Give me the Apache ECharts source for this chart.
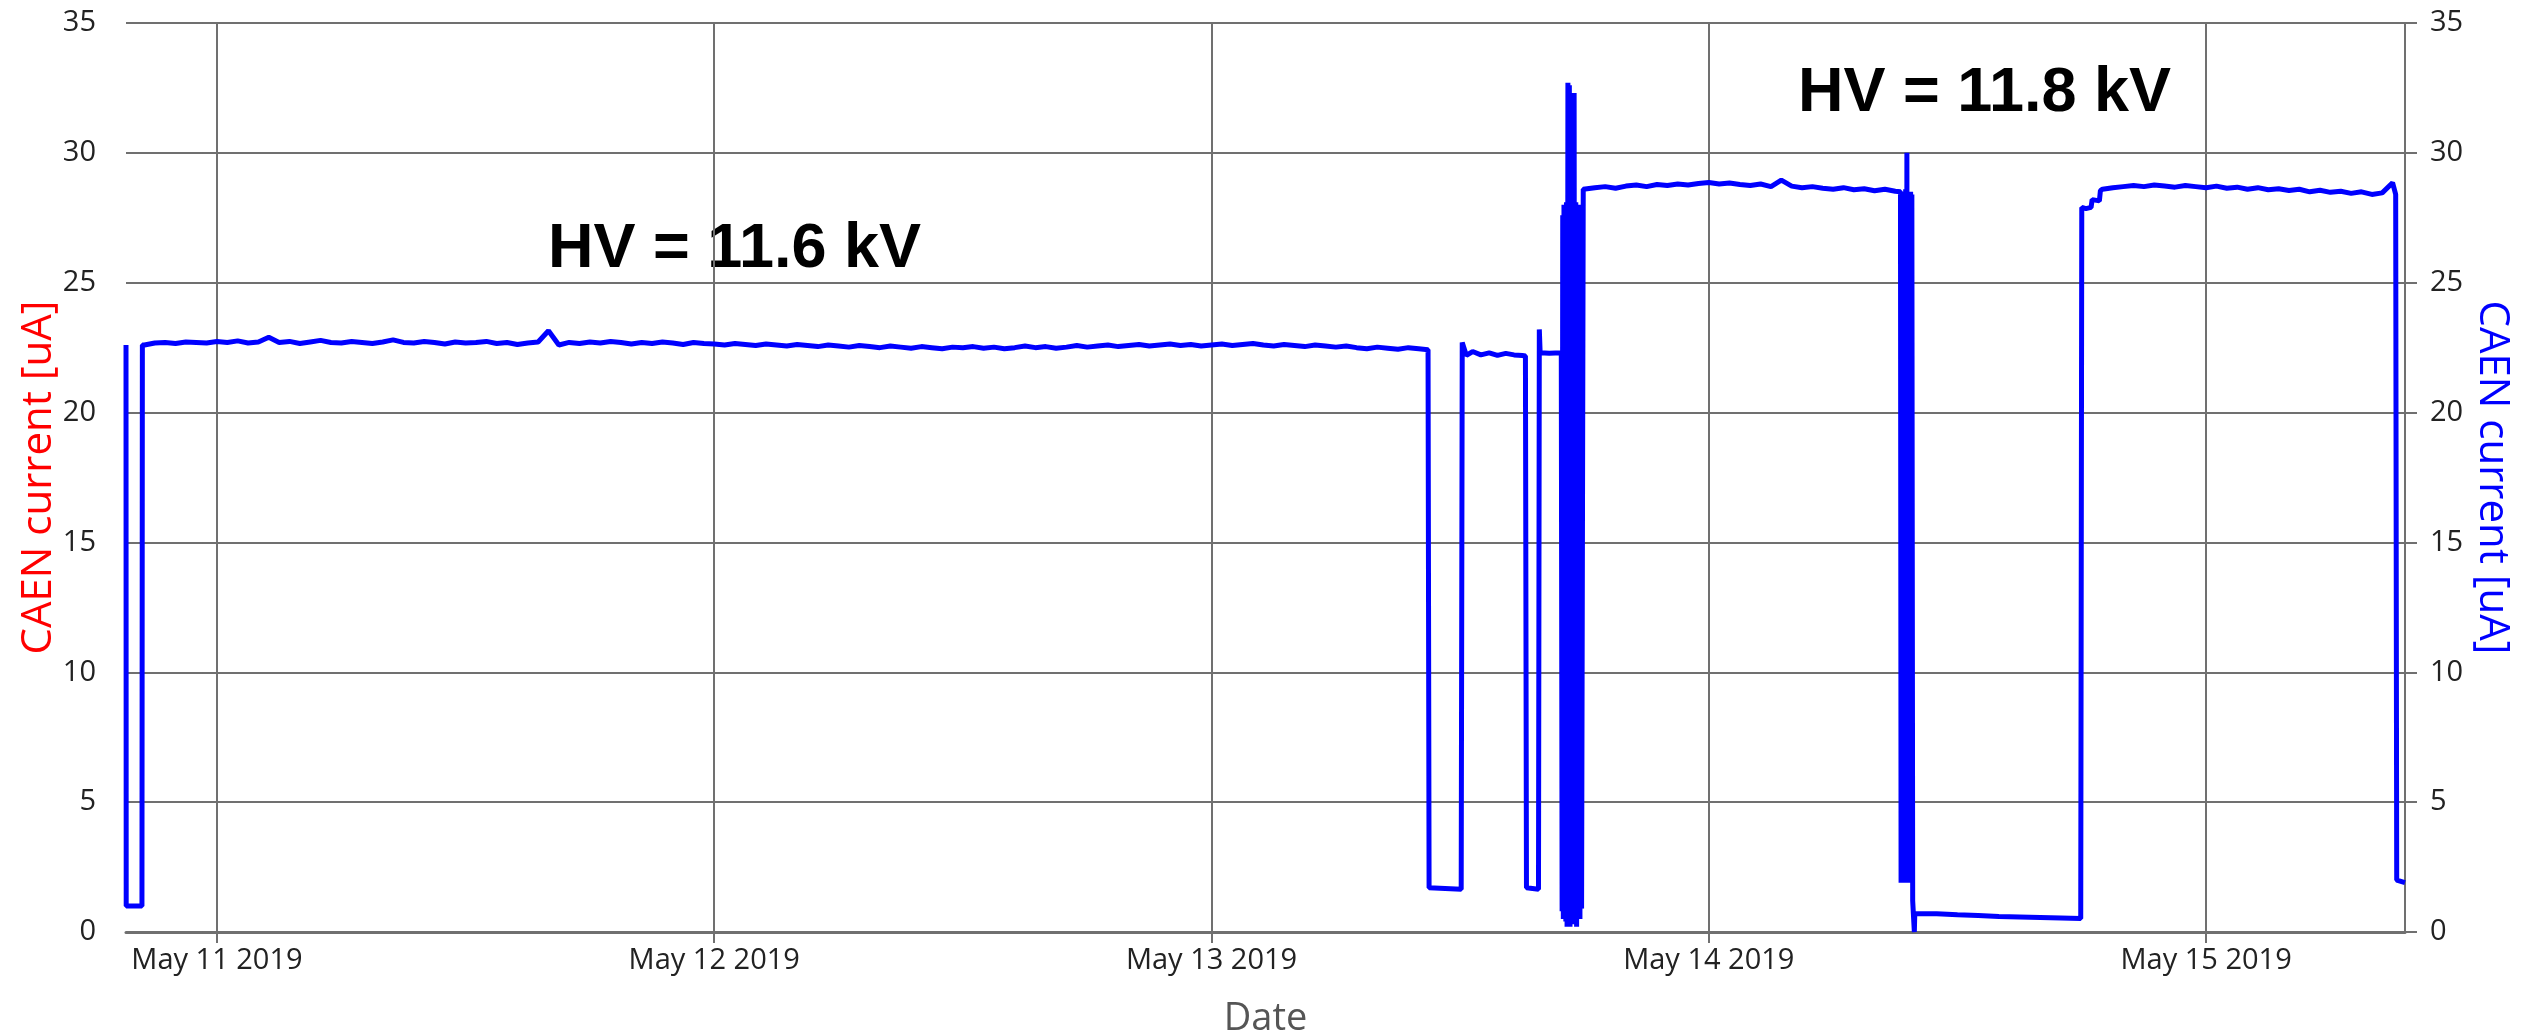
<!DOCTYPE html>
<html>
<head>
<meta charset="utf-8">
<title>CAEN current</title>
<script src="https://cdn.jsdelivr.net/npm/echarts@6/dist/echarts.min.js"></script>
<style>
  html, body { margin: 0; padding: 0; background: #ffffff; }
  #chart { width: 2547px; height: 1035px; }
</style>
</head>
<body>
<div id="chart"></div>
<script>
// hours are counted from May 11 2019 00:00
const axisStartHour = -4.39
const axisEndHour = 105.6
const dayTickHours = [0, 24, 48, 72, 96]
const monthNames = ['Jan', 'Feb', 'Mar', 'Apr', 'May', 'Jun', 'Jul', 'Aug', 'Sep', 'Oct', 'Nov', 'Dec']

// switch-on at the start
const startHours = [-4.39, -4.38, -3.62, -3.6]
const startValues = [22.6, 1.0, 1.0, 22.6]

// HV = 11.6 kV run, sampled every half hour
const run116Start = -3.5
const run116Step = 0.5
const run116Values = [
  22.6, 22.68, 22.7, 22.66, 22.72, 22.7, 22.68, 22.74,
  22.7, 22.76, 22.68, 22.72, 22.9, 22.7, 22.74, 22.66, 22.72, 22.78, 22.7, 22.68,
  22.74, 22.7, 22.66, 22.72, 22.8, 22.7, 22.68, 22.74, 22.7, 22.64, 22.72, 22.68,
  22.7, 22.74, 22.66, 22.7, 22.62, 22.68, 22.72, 23.15, 22.6, 22.7, 22.66, 22.72,
  22.68, 22.74, 22.7, 22.64, 22.7, 22.66, 22.72, 22.68, 22.62, 22.7, 22.66, 22.64,
  22.6, 22.66, 22.62, 22.58, 22.64, 22.6, 22.56, 22.62, 22.58, 22.54, 22.6, 22.56,
  22.52, 22.58, 22.54, 22.5, 22.56, 22.52, 22.48, 22.54, 22.5, 22.46, 22.52, 22.5,
  22.54, 22.48, 22.52, 22.46, 22.5, 22.56, 22.5, 22.54, 22.48, 22.52, 22.58, 22.52,
  22.56, 22.6, 22.54, 22.58, 22.62, 22.56, 22.6, 22.64, 22.58, 22.62, 22.56, 22.6,
  22.64, 22.58, 22.62, 22.66, 22.6, 22.56, 22.62, 22.58, 22.54, 22.6, 22.56, 22.52,
  22.56, 22.5, 22.46, 22.52, 22.48, 22.44, 22.5, 22.46
]

// trips on May 13
const tripHours = [
  58.45, 58.5, 60.05, 60.1, 60.3, 60.6, 61.0, 61.4, 61.8, 62.2, 62.6, 63.0, 63.15, 63.2,
  63.78, 63.82, 63.86, 64.3, 64.88
]
const tripValues = [
  22.42, 1.7, 1.65, 22.7, 22.2, 22.35, 22.22, 22.3, 22.2, 22.28, 22.22, 22.2, 22.18, 1.7,
  1.65, 23.2, 22.3, 22.28, 22.3
]

// unstable period while raising the HV
const burstHours = [
  64.92, 64.95, 64.98, 65.01, 65.04, 65.07, 65.1, 65.13, 65.16, 65.2, 65.23, 65.27, 65.3,
  65.34, 65.38, 65.42, 65.46, 65.5, 65.54, 65.58, 65.62, 65.66, 65.7, 65.74, 65.78, 65.82,
  65.86, 65.92, 65.94
]
const burstValues = [
  0.8, 27.6, 0.5, 28.0, 0.8, 27.8, 0.4, 28.1, 0.2, 32.7, 0.3, 32.6, 0.2,
  28.2, 0.5, 28.0, 0.3, 32.3, 0.6, 28.1, 0.2, 28.0, 0.9, 27.9, 0.5, 28.0,
  0.9, 0.9, 28.6
]

// HV = 11.8 kV, first part
const run118aStart = 66.0
const run118aStep = 0.5
const run118aValues = [
  28.6, 28.66, 28.7, 28.64, 28.72, 28.76, 28.7, 28.78, 28.74, 28.8, 28.76, 28.82,
  28.86, 28.8, 28.84, 28.78, 28.74, 28.8, 28.7, 28.95, 28.72, 28.66, 28.7, 28.64,
  28.6, 28.66, 28.58, 28.62, 28.54, 28.6, 28.52
]

// trip on May 14 and the low period
const trip2Hours = [
  81.25, 81.28, 81.31, 81.34, 81.37, 81.4, 81.43, 81.46, 81.5, 81.53, 81.56, 81.59, 81.62,
  81.65, 81.68, 81.71, 81.74, 81.77, 81.8, 81.84, 81.9, 81.92, 81.94,
  82.0, 83.0, 84.0, 85.0, 86.0, 87.0, 88.0, 89.0, 89.95,
  90.0, 90.2, 90.45, 90.5, 90.85, 90.9
]
const trip2Values = [
  28.5, 1.9, 28.4, 1.9, 28.5, 2.0, 28.4, 1.9, 28.6, 2.0, 30.0, 1.9, 28.5,
  1.9, 28.4, 2.0, 28.5, 1.9, 28.4, 1.2, 1.2, 0.0, 0.7,
  0.72, 0.7, 0.66, 0.64, 0.6, 0.58, 0.56, 0.54, 0.52,
  27.9, 27.85, 27.9, 28.2, 28.15, 28.55
]

// HV = 11.8 kV, second part
const run118bStart = 91.0
const run118bStep = 0.5
const run118bValues = [
  28.6, 28.66, 28.7, 28.74, 28.7, 28.76, 28.72, 28.68, 28.74, 28.7, 28.66, 28.72,
  28.64, 28.68, 28.6, 28.66, 28.58, 28.62, 28.55, 28.6, 28.5, 28.56, 28.48, 28.52,
  28.44, 28.5, 28.4, 28.46, 28.85
]

// switch-off at the end
const endHours = [105.15, 105.2, 105.6]
const endValues = [28.4, 2.0, 1.9]

const points = []
const addPairs = (hours, values) => {
  hours.forEach((h, i) => points.push([h, values[i]]))
}
const addRun = (start, step, values) => {
  values.forEach((v, i) => points.push([start + i * step, v]))
}
addPairs(startHours, startValues)
addRun(run116Start, run116Step, run116Values)
addPairs(tripHours, tripValues)
addPairs(burstHours, burstValues)
addRun(run118aStart, run118aStep, run118aValues)
addPairs(trip2Hours, trip2Values)
addRun(run118bStart, run118bStep, run118bValues)
addPairs(endHours, endValues)

const T0 = new Date(2019, 4, 11).getTime()
const dateLabel = h => {
  const d = new Date(T0 + h * 3600 * 1000)
  return monthNames[d.getMonth()] + ' ' + d.getDate() + ' ' + d.getFullYear()
}

const gridColor = '#707070'
const labelFont = 'Open Sans'

const chart = echarts.init(document.getElementById('chart'))

const yAxisBase = {
  type: 'value',
  min: 0,
  max: 35,
  interval: 5,
  nameLocation: 'middle',
  nameMoveOverlap: false,
  axisLine: { show: true, lineStyle: { color: gridColor, width: 2 } },
  axisTick: { show: true, inside: false, lineStyle: { color: gridColor, width: 2 } },
  axisLabel: { fontFamily: labelFont, fontSize: 29, color: '#222' }
}

chart.setOption({
  animation: false,
  backgroundColor: '#ffffff',
  grid: { left: 126, right: 142, top: 23, bottom: 103, containLabel: false, outerBoundsMode: 'none' },
  xAxis: {
    type: 'value',
    min: axisStartHour,
    max: axisEndHour,
    name: 'Date',
    nameLocation: 'middle',
    nameGap: 68,
    nameMoveOverlap: false,
    nameTextStyle: { fontFamily: labelFont, fontSize: 38, color: '#555' },
    axisLine: { show: true, onZero: false, lineStyle: { color: gridColor, width: 3 } },
    axisTick: { show: true, length: 11, customValues: dayTickHours, lineStyle: { color: gridColor, width: 2 } },
    axisLabel: {
      customValues: dayTickHours,
      fontFamily: labelFont,
      fontSize: 29,
      color: '#222',
      margin: 14,
      formatter: dateLabel
    },
    splitLine: { show: true, lineStyle: { color: gridColor, width: 2 } }
  },
  yAxis: [
    Object.assign({}, yAxisBase, {
      position: 'left',
      name: 'CAEN current [uA]',
      nameGap: 66,
      nameRotate: 90,
      nameTextStyle: { fontFamily: labelFont, fontSize: 42, color: '#ff0000' },
      axisTick: Object.assign({}, yAxisBase.axisTick, { length: 14 }),
      axisLabel: Object.assign({}, yAxisBase.axisLabel, { margin: 30 }),
      splitLine: { show: true, lineStyle: { color: gridColor, width: 2 } }
    }),
    Object.assign({}, yAxisBase, {
      position: 'right',
      name: 'CAEN current [uA]',
      nameGap: 66,
      nameRotate: -90,
      nameTextStyle: { fontFamily: labelFont, fontSize: 42, color: '#0000ff' },
      axisTick: Object.assign({}, yAxisBase.axisTick, { length: 12 }),
      axisLabel: Object.assign({}, yAxisBase.axisLabel, { margin: 25 }),
      splitLine: { show: false }
    })
  ],
  graphic: [
    {
      type: 'text',
      left: 548,
      top: 218,
      style: { text: 'HV = 11.6 kV', font: 'bold 63px "Liberation Sans"', fill: '#000' }
    },
    {
      type: 'text',
      left: 1798,
      top: 62,
      style: { text: 'HV = 11.8 kV', font: 'bold 63px "Liberation Sans"', fill: '#000' }
    }
  ],
  series: [
    {
      type: 'line',
      yAxisIndex: 1,
      data: points,
      showSymbol: false,
      symbol: 'none',
      lineStyle: { color: '#0000ff', width: 5 },
      itemStyle: { color: '#0000ff' },
      z: 5
    }
  ]
})
</script>
</body>
</html>
